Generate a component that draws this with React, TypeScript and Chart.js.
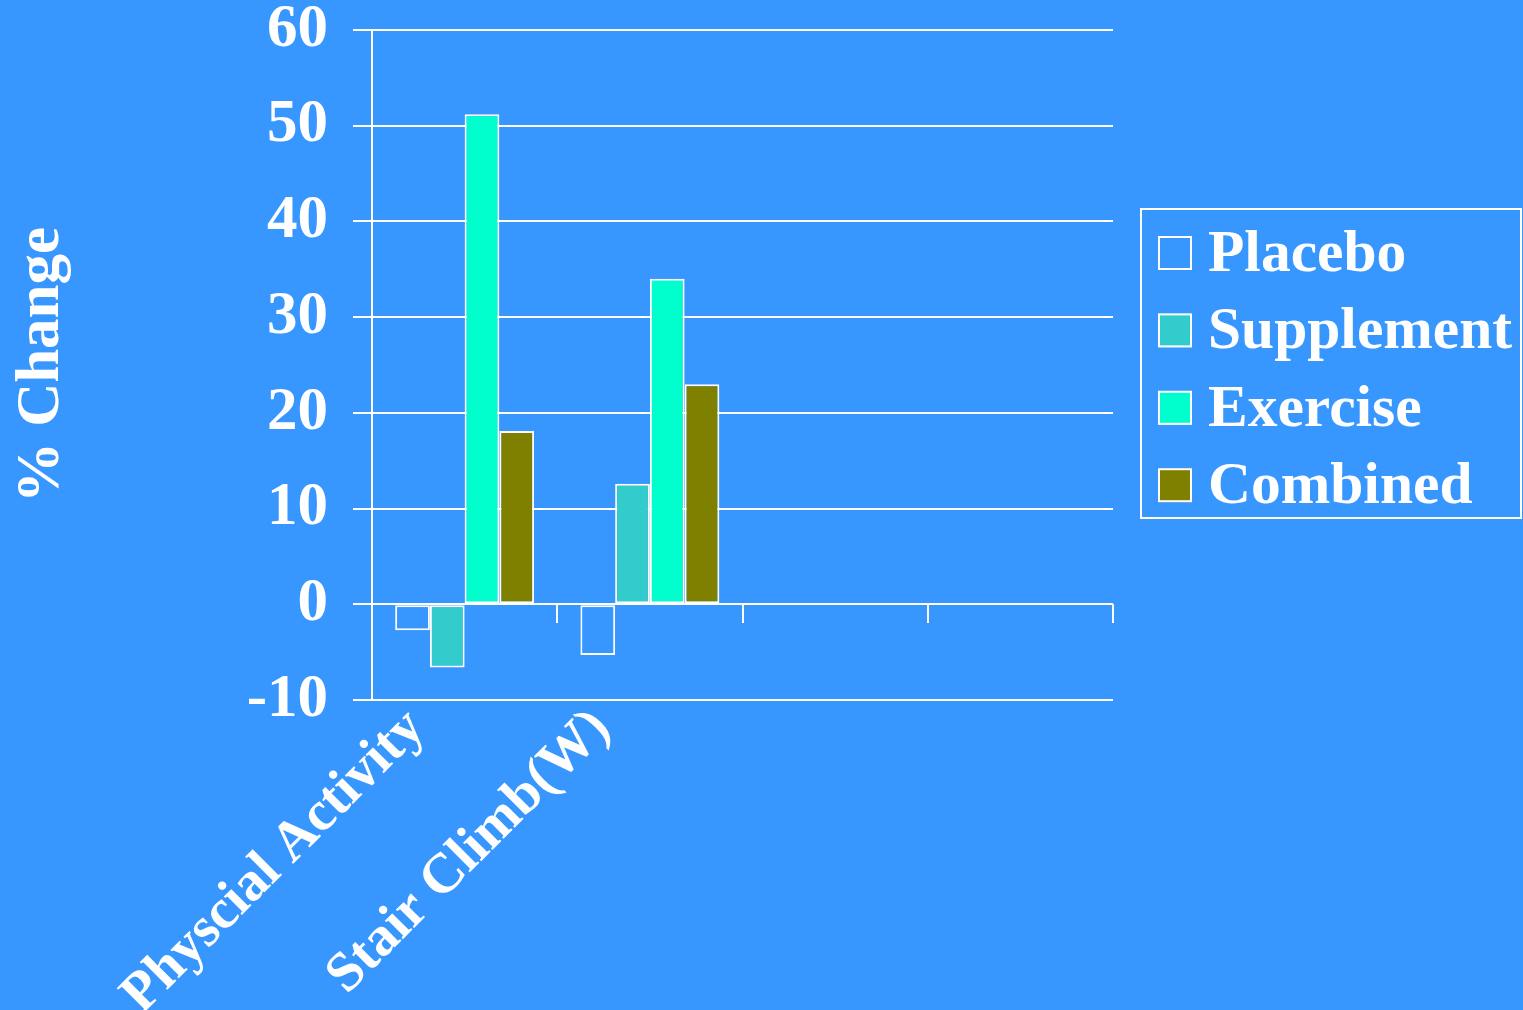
import { useEffect, useRef } from 'react';
import { Chart, registerables } from 'chart.js';

Chart.register(...registerables);

// Categories along the x axis (two empty slots keep the plot wide)
const categories = ['Physcial Activity', 'Stair Climb(W)', '', ''];

// Series and their % change per category
const seriesNames = ['Placebo', 'Supplement', 'Exercise', 'Combined'];
const placeboValues = [-2.7, -5.3, null, null];
const supplementValues = [-6.6, 12.6, null, null];
const exerciseValues = [51.2, 34.0, null, null];
const combinedValues = [18.1, 23.0, null, null];

// Value axis range and step
const yMin = -10;
const yMax = 60;
const yStep = 10;

const BG = '#3797FF';
const seriesColors = [BG, '#33CCCC', '#00FFCC', '#808000'];
const FONT = "'Liberation Serif', 'Times New Roman', serif";

// Boxed legend on the right, built from the datasets
const sideLegend = {
  id: 'sideLegend',
  afterDraw(chart: any) {
    const { ctx, chartArea } = chart;
    const left = chartArea.right + 28;
    const top = 209;
    ctx.save();
    ctx.strokeStyle = '#FFFFFF';
    ctx.lineWidth = 2;
    ctx.strokeRect(left, top, 380, 309);
    ctx.font = `bold 59.5px ${FONT}`;
    ctx.textAlign = 'left';
    ctx.textBaseline = 'alphabetic';
    chart.data.datasets.forEach((ds: any, i: number) => {
      const rowTop = 236 + i * 77.4;
      const bx = left + 17;
      ctx.fillStyle = ds.backgroundColor;
      ctx.fillRect(bx, rowTop, 34, 34);
      ctx.strokeStyle = '#FFFFFF';
      ctx.lineWidth = 2;
      ctx.strokeRect(bx + 1, rowTop + 1, 32, 32);
      ctx.fillStyle = '#FFFFFF';
      ctx.fillText(ds.label, bx + 50, rowTop + 35);
    });
    ctx.restore();
  },
};

export default function App() {
  const canvasRef = useRef<HTMLCanvasElement | null>(null);

  useEffect(() => {
    document.body.style.margin = '0';
    document.body.style.background = BG;
    const canvas = canvasRef.current;
    if (!canvas) return;

    const values = [placeboValues, supplementValues, exerciseValues, combinedValues];

    const chart = new Chart(canvas, {
      type: 'bar',
      data: {
        labels: categories,
        datasets: seriesNames.map((name, i) => ({
          label: name,
          data: values[i],
          backgroundColor: seriesColors[i],
          borderColor: '#FFFFFF',
          borderWidth: 2,
          borderSkipped: false,
          categoryPercentage: 0.75,
          barPercentage: 1,
          xAxisID: 'x',
        })),
      },
      options: {
        responsive: false,
        animation: false,
        layout: { padding: { top: 30, right: 410, bottom: 0, left: 0 } },
        plugins: {
          legend: { display: false },
          tooltip: { enabled: false },
        },
        scales: {
          x: {
            type: 'category',
            position: 'bottom',
            grid: { display: false },
            border: { display: false },
            ticks: {
              color: '#FFFFFF',
              font: { family: FONT, size: 56, weight: 'bold' },
              minRotation: 45,
              maxRotation: 45,
              autoSkip: false,
              labelOffset: -48,
              padding: -12,
            },
            afterFit: (scale: any) => {
              scale.height = 310;
              scale.paddingLeft = 0;
              scale.paddingRight = 0;
            },
          },
          x2: {
            type: 'category',
            axis: 'x',
            position: { y: 0 },
            offset: true,
            grid: {
              offset: true,
              drawOnChartArea: false,
              color: '#FFFFFF',
              lineWidth: 2,
              tickLength: 19,
            },
            border: { display: false },
            ticks: { display: false },
          },
          y: {
            type: 'linear',
            position: 'left',
            min: yMin,
            max: yMax,
            ticks: {
              stepSize: yStep,
              color: '#FFFFFF',
              padding: 25,
              font: { family: FONT, size: 61, weight: 'bold', lineHeight: 1 },
            },
            grid: { color: '#FFFFFF', lineWidth: 2, tickLength: 19 },
            border: { display: true, color: '#FFFFFF', width: 2 },
            title: {
              display: true,
              text: '% Change',
              color: '#FFFFFF',
              font: { family: FONT, size: 61, weight: 'bold' },
              padding: { top: 6, bottom: 0 },
            },
            afterFit: (scale: any) => {
              scale.width = 372;
              scale.paddingTop = 0;
              scale.paddingBottom = 0;
            },
          },
        },
      },
      plugins: [sideLegend],
    });

    return () => chart.destroy();
  }, []);

  return (
    <div style={{ position: 'fixed', left: 0, top: 0, width: 1523, height: 1010, background: BG }}>
      <canvas ref={canvasRef} width={1523} height={1010} style={{ display: 'block' }} />
    </div>
  );
}
